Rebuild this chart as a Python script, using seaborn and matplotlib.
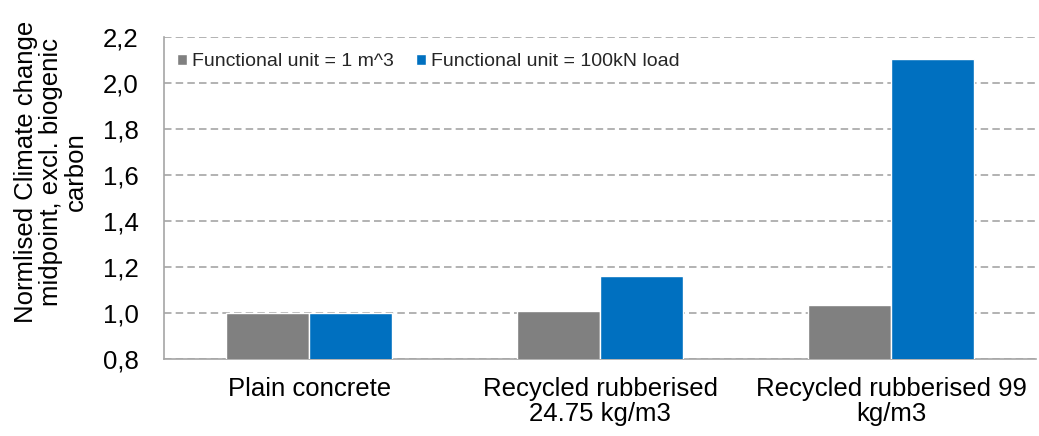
import matplotlib
matplotlib.use("Agg")
import matplotlib.pyplot as plt
import matplotlib.ticker as mticker
import seaborn as sns
import pandas as pd

# Concrete mixes compared
categories = [
    "Plain concrete",
    "Recycled rubberised\n24.75 kg/m3",
    "Recycled rubberised 99\nkg/m3",
]
series_names = ["Functional unit = 1 m^3", "Functional unit = 100kN load"]
per_volume = [1.00, 1.01, 1.035]
per_load = [1.00, 1.162, 2.104]
colors = ["#808080", "#0070C0"]

df = pd.DataFrame({
    "mix": categories * 2,
    "unit": [series_names[0]] * 3 + [series_names[1]] * 3,
    "value": per_volume + per_load,
})

sns.set_theme(style="white")
plt.rcParams["font.family"] = ["Liberation Sans", "DejaVu Sans"]

axis_grey = "#A6A6A6"

fig = plt.figure(figsize=(10.39, 4.36), dpi=100)
ax = fig.add_axes([0.1575, 0.1766, 0.8400, 0.7385])

sns.barplot(data=df, x="mix", y="value", hue="unit", palette=colors,
            width=0.57, gap=0, saturation=1, ax=ax, errorbar=None, zorder=3)

ax.set_ylim(0.8, 2.2)
ax.set_xlim(-0.5, 2.5)
ax.yaxis.set_major_locator(mticker.MultipleLocator(0.2))
ax.yaxis.set_major_formatter(
    mticker.FuncFormatter(lambda v, p: f"{v:.1f}".replace(".", ",")))
ax.grid(axis="y", color=axis_grey, linestyle=(0, (4.5, 2.5)), linewidth=1.2, zorder=0)
ax.grid(axis="x", visible=False)

# tick marks sit between categories
ax.tick_params(axis="x", which="major", length=0, labelsize=18.5, pad=13,
               colors="black")
ax.set_xticks([-0.5, 0.5, 1.5, 2.5], minor=True)
ax.tick_params(axis="x", which="minor", length=6, color=axis_grey, width=1.2)
ax.tick_params(axis="y", length=3, width=1.2, color=axis_grey, labelsize=18.5,
               pad=15, labelcolor="black")
for lbl in ax.get_xticklabels():
    lbl.set_multialignment("center")
    lbl.set_linespacing(1.05)

for s in ["right", "top"]:
    ax.spines[s].set_visible(False)
for s in ["bottom", "left"]:
    ax.spines[s].set_color(axis_grey)
    ax.spines[s].set_linewidth(1.2)

ax.set_xlabel("")
ax.set_ylabel("Normlised Climate change\nmidpoint, excl. biogenic\ncarbon",
              fontsize=18.5, color="black", linespacing=1.05)
ax.yaxis.set_label_coords(-0.087, 0.582)

ax.legend(loc="center left", bbox_to_anchor=(0.015, 0.923), ncol=2, frameon=False,
          fontsize=14, handlelength=0.55, handleheight=0.55, handletextpad=0.25,
          columnspacing=1.1, borderaxespad=0, borderpad=0)

fig.savefig("out.png", dpi=100)
